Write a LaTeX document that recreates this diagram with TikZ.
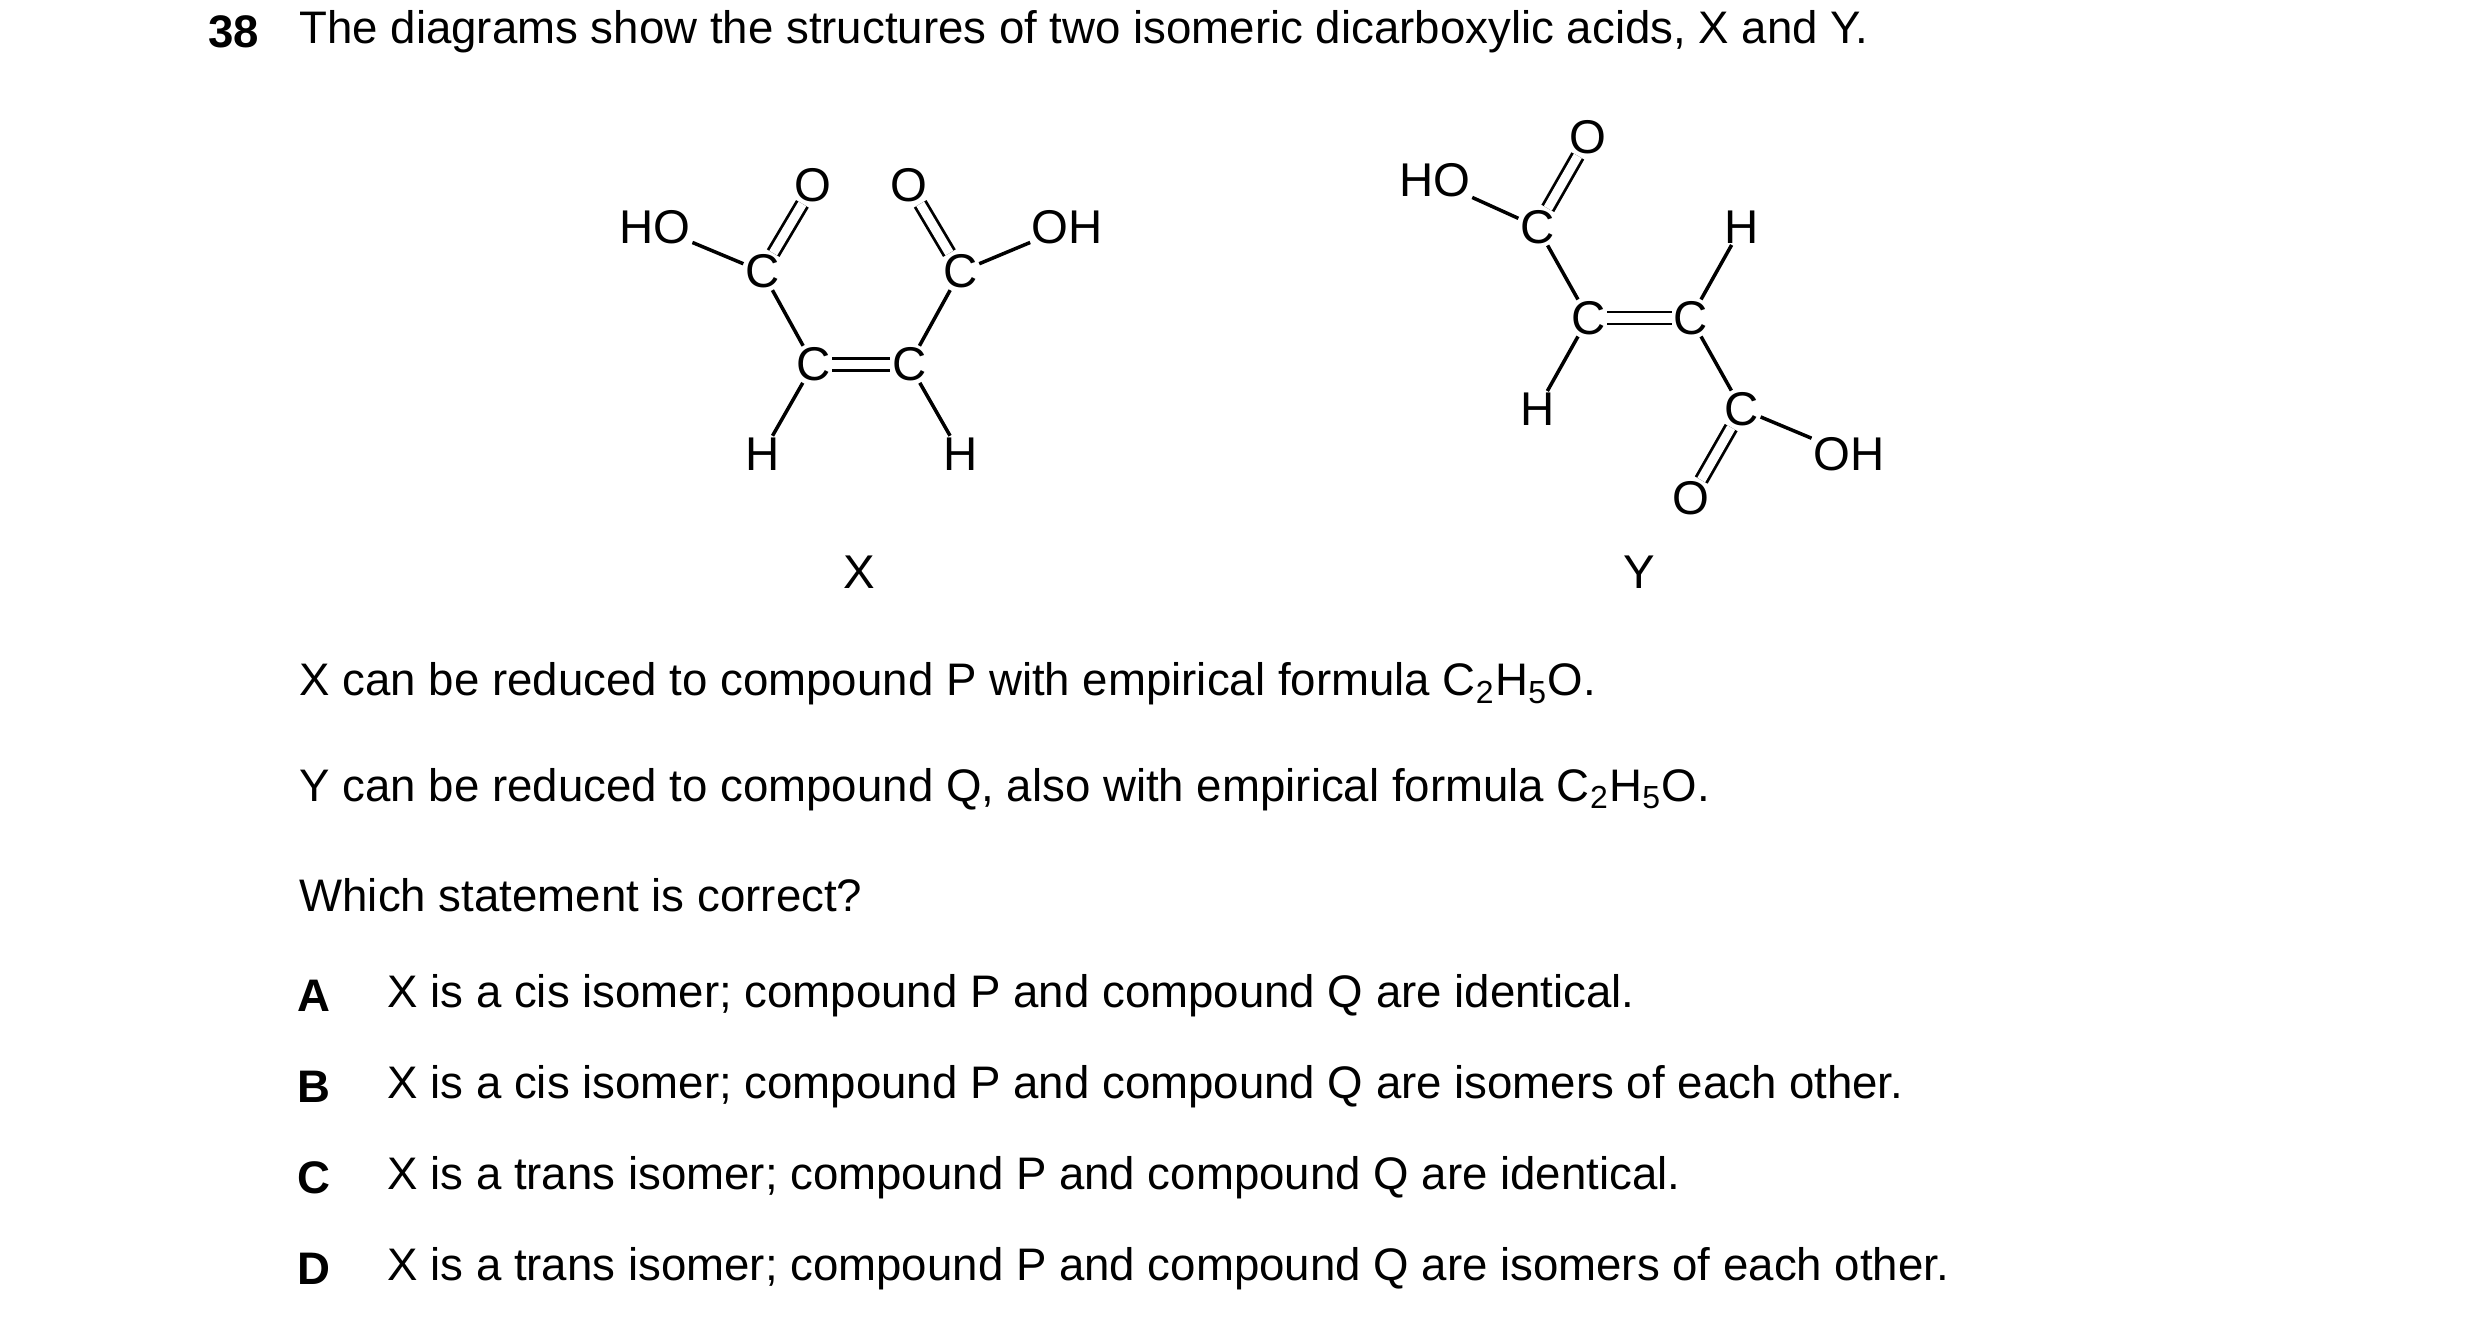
\documentclass[tikz,border=0pt]{standalone}
\usepackage{fontspec}
\setmainfont{Liberation Sans}
\tikzset{
  atom/.style={inner sep=0.3pt, font=\fontsize{13.5}{15}\selectfont},
  bond/.style={line width=1pt},
  dbond/.style={bond, double, double distance=2.6pt, line width=0.8pt},
  txt/.style={anchor=west, inner sep=0pt, font=\fontsize{13}{15}\selectfont},
}
\begin{document}
\begin{tikzpicture}[x=0.016cm, y=-0.016cm]
  \useasboundingbox (0,0) rectangle (1552,828);
  % question
  \node[txt, font=\bfseries\fontsize{13}{15}\selectfont] (num) at (130,20) {38};
  \node[txt] (q) at (187,20) {The diagrams show the structures of two isomeric dicarboxylic acids, X and Y.};

  % acid X
  \node[atom] (xho) at (410,142) {HO};
  \node[atom] (xc1) at (477,170) {C};
  \node[atom] (xo1) at (509,116) {O};
  \node[atom] (xc2) at (509,228) {C};
  \node[atom] (xc3) at (569,228) {C};
  \node[atom] (xc4) at (601,170) {C};
  \node[atom] (xo2) at (569,116) {O};
  \node[atom] (xoh) at (668,142) {OH};
  \node[atom] (xh1) at (477,284) {H};
  \node[atom] (xh2) at (601,284) {H};
  \draw[bond] (xho) -- (xc1);
  \draw[dbond] (xc1) -- (xo1);
  \draw[bond] (xc1) -- (xc2);
  \draw[dbond] (xc2) -- (xc3);
  \draw[bond] (xc3) -- (xc4);
  \draw[dbond] (xc4) -- (xo2);
  \draw[bond] (xc4) -- (xoh);
  \draw[bond] (xc2) -- (xh1);
  \draw[bond] (xc3) -- (xh2);
  \node[atom] (xlab) at (538,358) {X};

  % acid Y
  \node[atom] (yho) at (898,113) {HO};
  \node[atom] (yc1) at (962,142) {C};
  \node[atom] (yo1) at (994,86) {O};
  \node[atom] (yc2) at (994,199) {C};
  \node[atom] (yc3) at (1058,199) {C};
  \node[atom] (yh1) at (1090,142) {H};
  \node[atom] (yh2) at (962,256) {H};
  \node[atom] (yc4) at (1090,256) {C};
  \node[atom] (yoh) at (1157,284) {OH};
  \node[atom] (yo2) at (1058,312) {O};
  \draw[bond] (yho) -- (yc1);
  \draw[dbond] (yc1) -- (yo1);
  \draw[bond] (yc1) -- (yc2);
  \draw[dbond] (yc2) -- (yc3);
  \draw[bond] (yc3) -- (yh1);
  \draw[bond] (yc2) -- (yh2);
  \draw[bond] (yc3) -- (yc4);
  \draw[bond] (yc4) -- (yoh);
  \draw[dbond] (yc4) -- (yo2);
  \node[atom] (ylab) at (1026,358) {Y};

  % statements
  \node[txt] (s1) at (187,428) {X can be reduced to compound P with empirical formula C\textsubscript{2}H\textsubscript{5}O.};
  \node[txt] (s2) at (187,494) {Y can be reduced to compound Q, also with empirical formula C\textsubscript{2}H\textsubscript{5}O.};
  \node[txt] (s3) at (187,560) {Which statement is correct?};
  \foreach \l/\y/\t in {A/623/{X is a cis isomer; compound P and compound Q are identical.},
                        B/680/{X is a cis isomer; compound P and compound Q are isomers of each other.},
                        C/737/{X is a trans isomer; compound P and compound Q are identical.},
                        D/794/{X is a trans isomer; compound P and compound Q are isomers of each other.}}{
    \node[txt, font=\bfseries\fontsize{13}{15}\selectfont] (opt\l) at (186,\y) {\l};
    \node[txt] (text\l) at (242,\y) {\t};
  }
\end{tikzpicture}
\end{document}
